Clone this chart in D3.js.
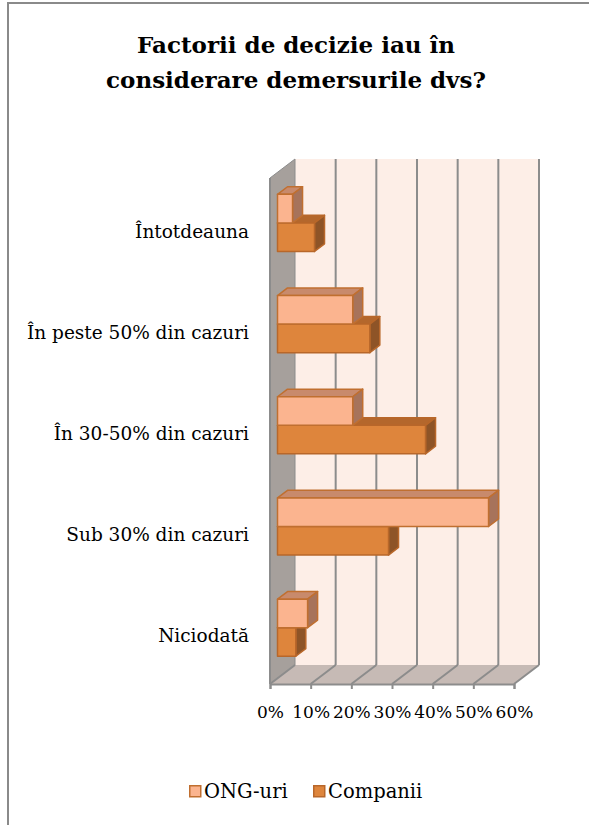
<!DOCTYPE html>
<html>
<head>
<meta charset="utf-8">
<script src="https://cdn.jsdelivr.net/npm/d3@7"></script>
<style>
  body { margin: 0; background: #fff; }
</style>
</head>
<body>
<div id="chart"></div>
<script>
// data
var categories = ["Întotdeauna", "În peste 50% din cazuri", "În 30-50% din cazuri", "Sub 30% din cazuri", "Niciodată"];
var seriesNames = ["ONG-uri", "Companii"];
var ongValues = [0.037, 0.185, 0.185, 0.519, 0.074];
var companiiValues = [0.091, 0.227, 0.364, 0.273, 0.045];
var tickValues = [0, 0.1, 0.2, 0.3, 0.4, 0.5, 0.6];

var width = 589, height = 825;
var fontFamily = "'DejaVu Serif', serif";

// front plane of the 3d box
var plotLeft = 270, plotRight = 514, plotTop = 178, plotBottom = 684;
var depthX = 25, depthY = -19;     // full depth offset
var barFront = 0.3, barBack = 0.7;  // bar sits in the middle of the depth

var colors = {
  "ONG-uri":  { front: "#fbb48f", top: "#c88a6c", side: "#a7735b", stroke: "#c06f30" },
  "Companii": { front: "#de853c", top: "#b4672c", side: "#8e5427", stroke: "#b8672a" }
};

var svg = d3.select("#chart").append("svg")
  .attr("width", width)
  .attr("height", height)
  .attr("font-family", fontFamily);

// frame
svg.append("rect")
  .attr("x", 8).attr("y", 3)
  .attr("width", 640).attr("height", 900)
  .attr("fill", "#fff")
  .attr("stroke", "#8a8a8a")
  .attr("stroke-width", 2);

// title
var title = svg.append("text")
  .attr("text-anchor", "middle")
  .attr("font-weight", "bold")
  .attr("font-size", 23);
title.append("tspan").attr("x", 296).attr("y", 53).text("Factorii de decizie iau în");
title.append("tspan").attr("x", 296).attr("y", 88).text("considerare demersurile dvs?");

var x = d3.scaleLinear().domain([0, 0.6]).range([plotLeft, plotRight]);
var y0 = d3.scaleBand().domain(categories).range([plotTop, plotBottom]);
var bw = y0.bandwidth();
var y1 = d3.scaleBand().domain(seriesNames).range([bw * 0.218, bw * 0.782]);

function pt(px, py, d) { return [px + d * depthX, py + d * depthY]; }
function poly(points) { return points.map(function(p) { return p.join(","); }).join(" "); }

// walls
svg.append("polygon") // back wall
  .attr("points", poly([pt(plotLeft, plotTop, 1), pt(plotRight, plotTop, 1), pt(plotRight, plotBottom, 1), pt(plotLeft, plotBottom, 1)]))
  .attr("fill", "#fdeee7");
svg.append("polygon") // left side wall
  .attr("points", poly([pt(plotLeft, plotTop, 0), pt(plotLeft, plotTop, 1), pt(plotLeft, plotBottom, 1), pt(plotLeft, plotBottom, 0)]))
  .attr("fill", "#a6a09c")
  .attr("stroke", "#8c8c8c").attr("stroke-width", 1);
svg.append("polygon") // floor
  .attr("points", poly([pt(plotLeft, plotBottom, 0), pt(plotRight, plotBottom, 0), pt(plotRight, plotBottom, 1), pt(plotLeft, plotBottom, 1)]))
  .attr("fill", "#c6bab5");

// gridlines on back wall and floor
var grid = svg.append("g").attr("stroke", "#8c8c8c").attr("stroke-width", 2).attr("fill", "none");
tickValues.forEach(function(v) {
  var b0 = pt(x(v), plotTop, 1), b1 = pt(x(v), plotBottom, 1), f = pt(x(v), plotBottom, 0);
  if (v > 0) {
    grid.append("line").attr("x1", b0[0]).attr("y1", b0[1]).attr("x2", b1[0]).attr("y2", b1[1]);
  }
  grid.append("line").attr("x1", b1[0]).attr("y1", b1[1]).attr("x2", f[0]).attr("y2", f[1]);
});
grid.append("line").attr("x1", plotLeft).attr("y1", plotTop).attr("x2", plotLeft).attr("y2", plotBottom);

// x axis
var axis = svg.append("g")
  .attr("transform", "translate(0," + plotBottom + ")")
  .call(d3.axisBottom(x).tickValues(tickValues).tickSize(5).tickPadding(17).tickFormat(d3.format(".0%")));
axis.attr("font-family", fontFamily).attr("font-size", 17);
axis.select(".domain").attr("stroke", "#8c8c8c").attr("stroke-width", 2);
axis.selectAll(".tick line").attr("stroke", "#8c8c8c").attr("stroke-width", 2);
axis.selectAll(".tick text").attr("fill", "#000");

// category labels
svg.append("g").selectAll("text")
  .data(categories)
  .enter().append("text")
  .attr("x", 249)
  .attr("y", function(d) { return y0(d) + bw / 2 + 9; })
  .attr("text-anchor", "end")
  .attr("font-size", 18.5)
  .text(function(d) { return d; });

// bars, drawn bottom to top so the upper bar covers the lower bar's top face
var bars = [];
categories.forEach(function(c, i) {
  bars.push({ cat: c, series: "ONG-uri", value: ongValues[i] });
  bars.push({ cat: c, series: "Companii", value: companiiValues[i] });
});
bars.reverse();

var barG = svg.append("g").selectAll("g")
  .data(bars)
  .enter().append("g")
  .attr("stroke-width", 1.5)
  .attr("stroke-linejoin", "round")
  .attr("stroke", function(d) { return colors[d.series].stroke; });

function corners(d) {
  var yTop = y0(d.cat) + y1(d.series), yBot = yTop + y1.bandwidth();
  return { x0: x(0), x1: x(d.value), y0: yTop, y1: yBot };
}

barG.append("polygon") // top face
  .attr("fill", function(d) { return colors[d.series].top; })
  .attr("points", function(d) {
    var c = corners(d);
    return poly([pt(c.x0, c.y0, barFront), pt(c.x0, c.y0, barBack), pt(c.x1, c.y0, barBack), pt(c.x1, c.y0, barFront)]);
  });
barG.append("polygon") // side face
  .attr("fill", function(d) { return colors[d.series].side; })
  .attr("points", function(d) {
    var c = corners(d);
    return poly([pt(c.x1, c.y0, barFront), pt(c.x1, c.y0, barBack), pt(c.x1, c.y1, barBack), pt(c.x1, c.y1, barFront)]);
  });
barG.append("polygon") // front face
  .attr("fill", function(d) { return colors[d.series].front; })
  .attr("points", function(d) {
    var c = corners(d);
    return poly([pt(c.x0, c.y0, barFront), pt(c.x1, c.y0, barFront), pt(c.x1, c.y1, barFront), pt(c.x0, c.y1, barFront)]);
  });

// legend
var legend = svg.append("g").selectAll("g")
  .data(seriesNames)
  .enter().append("g")
  .attr("transform", function(d, i) { return "translate(" + (i === 0 ? 189 : 313) + ",785)"; });
legend.append("rect")
  .attr("x", 0.75).attr("y", 0.75)
  .attr("width", 11).attr("height", 11)
  .attr("fill", function(d) { return colors[d].front; })
  .attr("stroke", function(d) { return colors[d].stroke; })
  .attr("stroke-width", 1.5);
legend.append("text")
  .attr("x", 15)
  .attr("y", 13)
  .attr("font-size", 19.5)
  .text(function(d) { return d; });
</script>
</body>
</html>
